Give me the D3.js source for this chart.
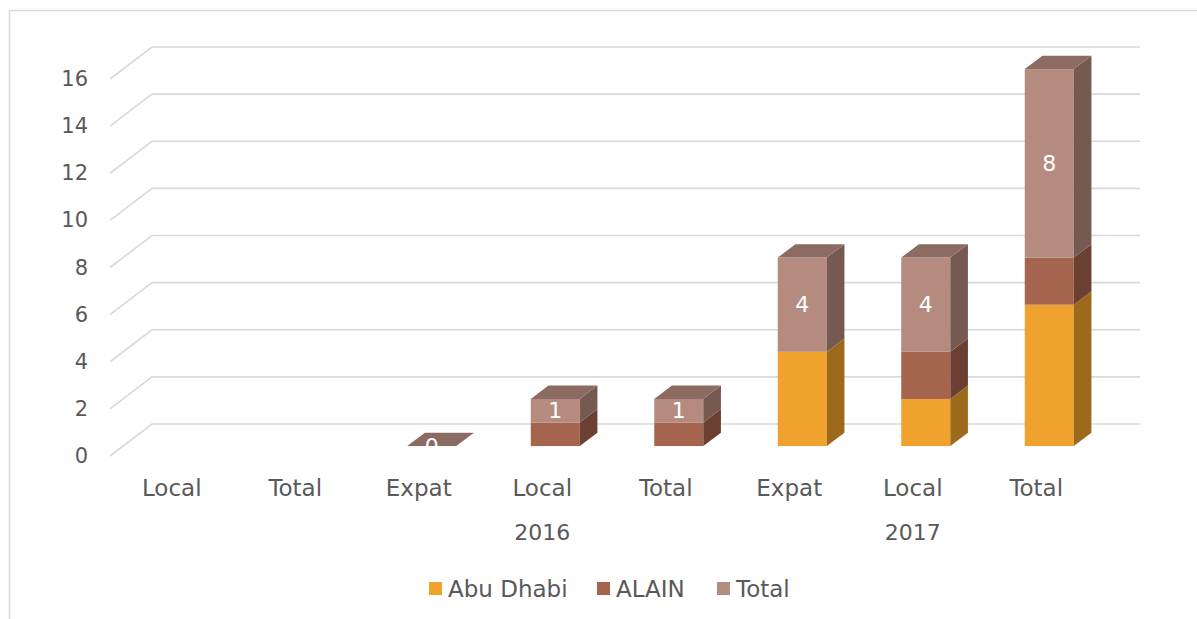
<!DOCTYPE html>
<html>
<head>
<meta charset="utf-8">
<script src="https://d3js.org/d3.v7.min.js"></script>
<style>
  body { margin: 0; background: #fff; }
  text { font-family: "DejaVu Sans", sans-serif; fill: #595959; }
</style>
</head>
<body>
<script>
// chart data
var categories = ["Local", "Total", "Expat", "Local", "Total", "Expat", "Local", "Total"];
var years = ["", "", "2016", "2016", "2016", "2017", "2017", "2017"];
var abuDhabi = [null, null, 0, 0, 0, 4, 2, 6];
var alain = [null, null, 0, 1, 1, 0, 2, 2];
var total = [null, null, 0, 1, 1, 4, 4, 8];
var seriesNames = ["Abu Dhabi", "ALAIN", "Total"];
var yTicks = [0, 2, 4, 6, 8, 10, 12, 14, 16];

var colors = {
  "Abu Dhabi": { front: "#f0a22e", side: "#9d6a1c", top: "#c4862a" },
  "ALAIN": { front: "#a5644e", side: "#6b3f32", top: "#8a5343" },
  "Total": { front: "#b58b80", side: "#755a52", top: "#8b6b62" }
};

var W = 1197, H = 619;
var depthX = 42, depthY = -32;   // floor depth
var t0 = 0.31, t1 = 0.73;        // bar depth position

var svg = d3.select("body").append("svg")
  .attr("width", W).attr("height", H);

svg.append("rect")
  .attr("x", 9.5).attr("y", 10.5)
  .attr("width", W).attr("height", H)
  .attr("fill", "none").attr("stroke", "#d9d9d9").attr("stroke-width", 1.5);

var x = d3.scaleBand().domain(d3.range(categories.length)).range([110, 1098]).padding(0);
var y = d3.scaleLinear().domain([0, 16]).range([456, 79]);

// gridlines: back wall + side wall diagonal
var grid = svg.append("g");
yTicks.forEach(function(t) {
  grid.append("path")
    .attr("d", "M" + x.range()[0] + "," + y(t) +
      "L" + (x.range()[0] + depthX) + "," + (y(t) + depthY) +
      "L" + (x.range()[1] + depthX) + "," + (y(t) + depthY))
    .attr("fill", "none").attr("stroke", "#d9d9d9").attr("stroke-width", 1.6);
  svg.append("text")
    .attr("x", 88).attr("y", y(t))
    .attr("text-anchor", "end").attr("dominant-baseline", "central")
    .style("font-size", "21px")
    .text(t);
});

// category labels
svg.selectAll(".cat").data(categories).enter().append("text")
  .attr("x", function(d, i) { return x(i) + x.bandwidth() / 2; })
  .attr("y", 488)
  .attr("text-anchor", "middle").attr("dominant-baseline", "central")
  .style("font-size", "23px")
  .text(function(d) { return d; });

// year group labels
var yearGroups = d3.groups(d3.range(years.length), function(i) { return years[i]; })
  .filter(function(g) { return g[0] !== ""; });
yearGroups.forEach(function(g) {
  var first = d3.min(g[1]), last = d3.max(g[1]);
  svg.append("text")
    .attr("x", (x(first) + x(last) + x.bandwidth()) / 2)
    .attr("y", 532)
    .attr("text-anchor", "middle").attr("dominant-baseline", "central")
    .style("font-size", "22px")
    .text(g[0]);
});

// stacked 3d bars
var rows = categories.map(function(c, i) {
  return { i: i, "Abu Dhabi": abuDhabi[i], "ALAIN": alain[i], "Total": total[i] };
});
var stack = d3.stack().keys(seriesNames)
  .value(function(d, k) { return d[k] || 0; })(rows);

var barW = x.bandwidth() * 0.397;
var sdx = depthX * (t1 - t0), sdy = depthY * (t1 - t0);
var bars = svg.append("g");

rows.forEach(function(row, i) {
  if (row["Total"] === null) return;
  var left = x(i) + x.bandwidth() / 2 + depthX * t0 - barW / 2;
  var right = left + barW;
  stack.forEach(function(s, si) {
    var seg = s[i];
    var yb = y(seg[0]) + depthY * t0, yt = y(seg[1]) + depthY * t0;
    var c = colors[s.key];
    var isTop = si === stack.length - 1;
    if (seg[1] > seg[0]) {
      bars.append("rect")
        .attr("x", left).attr("y", yt)
        .attr("width", barW).attr("height", yb - yt)
        .attr("fill", c.front);
      bars.append("path")
        .attr("d", "M" + right + "," + yb + "L" + (right + sdx) + "," + (yb + sdy) +
          "L" + (right + sdx) + "," + (yt + sdy) + "L" + right + "," + yt + "Z")
        .attr("fill", c.side);
    }
    if (isTop) {
      bars.append("path")
        .attr("d", "M" + left + "," + yt + "L" + (left + sdx) + "," + (yt + sdy) +
          "L" + (right + sdx) + "," + (yt + sdy) + "L" + right + "," + yt + "Z")
        .attr("fill", c.top);
      // data label for Total series
      bars.append("text")
        .attr("x", left + barW / 2).attr("y", (yb + yt) / 2)
        .attr("text-anchor", "middle").attr("dominant-baseline", "central")
        .style("font-size", "22px").style("fill", "#fff")
        .text(row["Total"]);
    }
  });
});

// legend
var legendX = [429, 597, 717];
seriesNames.forEach(function(name, i) {
  svg.append("rect")
    .attr("x", legendX[i]).attr("y", 582)
    .attr("width", 13).attr("height", 13)
    .attr("fill", colors[name].front);
  svg.append("text")
    .attr("x", legendX[i] + 19).attr("y", 589)
    .attr("dominant-baseline", "central")
    .style("font-size", "23px")
    .text(name);
});
</script>
</body>
</html>
